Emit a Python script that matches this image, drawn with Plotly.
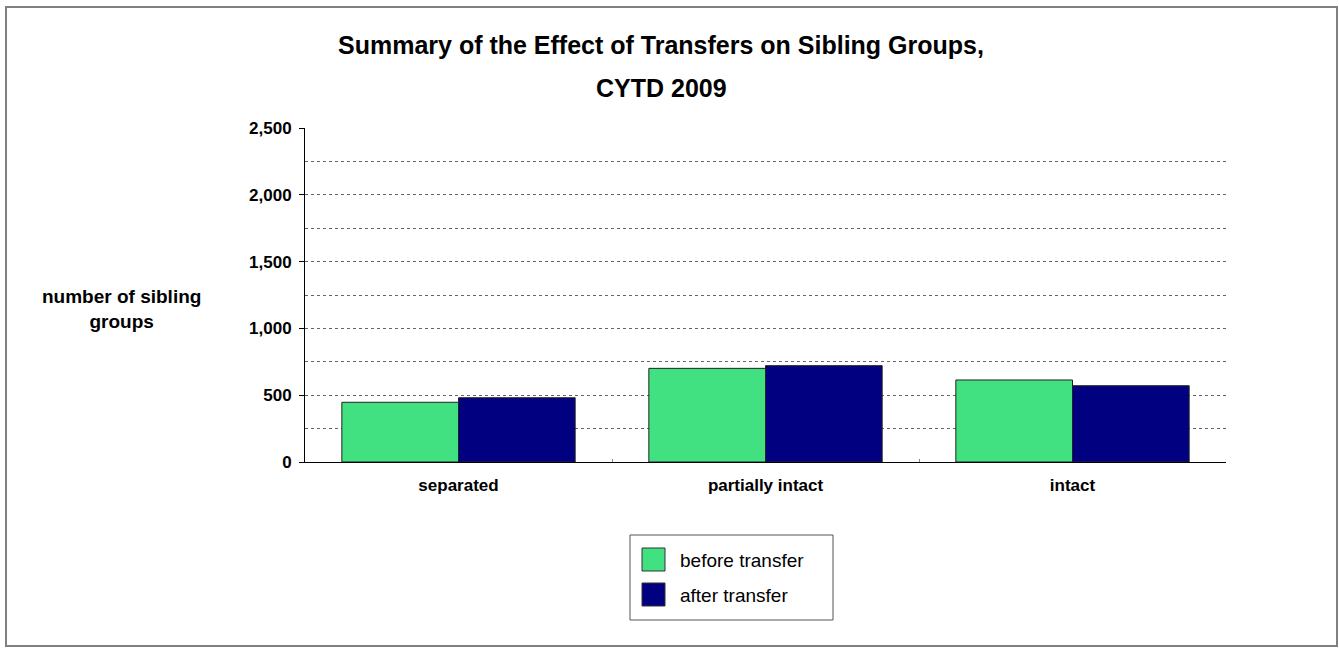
import plotly.graph_objects as go

categories = ["separated", "partially intact", "intact"]
before_transfer = [447, 701, 614]
after_transfer = [481, 721, 571]
series_names = ["before transfer", "after transfer"]
series_colors = ["#41E081", "#000080"]
y_ticks = [0, 500, 1000, 1500, 2000, 2500]
y_tick_labels = ["0", "500", "1,000", "1,500", "2,000", "2,500"]

W, H = 1339, 649
ml, mr, mt, mb = 305, 113, 128, 187
PW, PH = W - ml - mr, H - mt - mb


def px(xp):
    return (xp - ml) / PW


def py(yp):
    return (H - mb - yp) / PH


FONT = "Arial, Liberation Sans, sans-serif"

fig = go.Figure()
for name, vals, col in zip(series_names, [before_transfer, after_transfer], series_colors):
    fig.add_trace(go.Bar(x=categories, y=vals, name=name, showlegend=False,
                         marker=dict(color=col, line=dict(color="#222222", width=1))))

fig.update_layout(
    width=W, height=H,
    margin=dict(l=ml, r=mr, t=mt, b=mb),
    paper_bgcolor="white", plot_bgcolor="white",
    barmode="group", bargap=0.24, bargroupgap=0,
    font=dict(family=FONT, color="black"),
    showlegend=False,
    xaxis=dict(
        showline=True, linecolor="black", linewidth=1,
        ticks="inside", ticklen=3, tickcolor="#888888", tickson="boundaries",
        tickfont=dict(family=FONT, size=17, color="black", weight="bold"),
        ticklabelstandoff=8,
        showgrid=False,
    ),
    yaxis=dict(
        range=[0, 2500], tickvals=y_ticks, ticktext=y_tick_labels,
        showline=True, linecolor="black", linewidth=1,
        ticks="outside", ticklen=5, tickcolor="black",
        tickfont=dict(family=FONT, size=17, color="black", weight="bold"),
        ticklabelstandoff=4,
        showgrid=False, zeroline=False,
        minor=dict(dtick=250, tick0=0, showgrid=True, gridcolor="#666666",
                   griddash="dot", gridwidth=1, ticks=""),
    ),
)

# Title
fig.add_annotation(text="<b>Summary of the Effect of Transfers on Sibling Groups,</b>",
                   x=px(661), y=py(45), xref="paper", yref="paper",
                   showarrow=False, font=dict(size=25, color="black"),
                   xanchor="center", yanchor="middle")
fig.add_annotation(text="<b>CYTD 2009</b>",
                   x=px(661), y=py(88), xref="paper", yref="paper",
                   showarrow=False, font=dict(size=25, color="black"),
                   xanchor="center", yanchor="middle")
# Y axis title
fig.add_annotation(text="<b>number of sibling<br>groups</b>",
                   x=px(121), y=py(309), xref="paper", yref="paper",
                   showarrow=False, font=dict(size=19, color="black"),
                   xanchor="center", yanchor="middle", align="center")

# Outer frame
fig.add_shape(type="rect", xref="paper", yref="paper",
              x0=px(6), x1=px(1337), y0=py(646), y1=py(7),
              line=dict(color="#808080", width=2), layer="below")

# Legend box (manual, to match the reference's large swatches)
fig.add_shape(type="rect", xref="paper", yref="paper",
              x0=px(630), x1=px(833), y0=py(620), y1=py(535),
              line=dict(color="#555555", width=1), fillcolor="white")
for i, (name, col) in enumerate(zip(series_names, series_colors)):
    top = 548 + i * 35
    fig.add_shape(type="rect", xref="paper", yref="paper",
                  x0=px(642), x1=px(665), y0=py(top + 23), y1=py(top),
                  line=dict(color="#333333", width=1), fillcolor=col)
    fig.add_annotation(text=name, x=px(678), y=py(top + 12), xref="paper", yref="paper",
                       showarrow=False, font=dict(size=19, color="black"),
                       xanchor="left", yanchor="middle")

fig.write_html("out.html", config={"displayModeBar": False},
               post_script="document.body.style.margin='0';")
